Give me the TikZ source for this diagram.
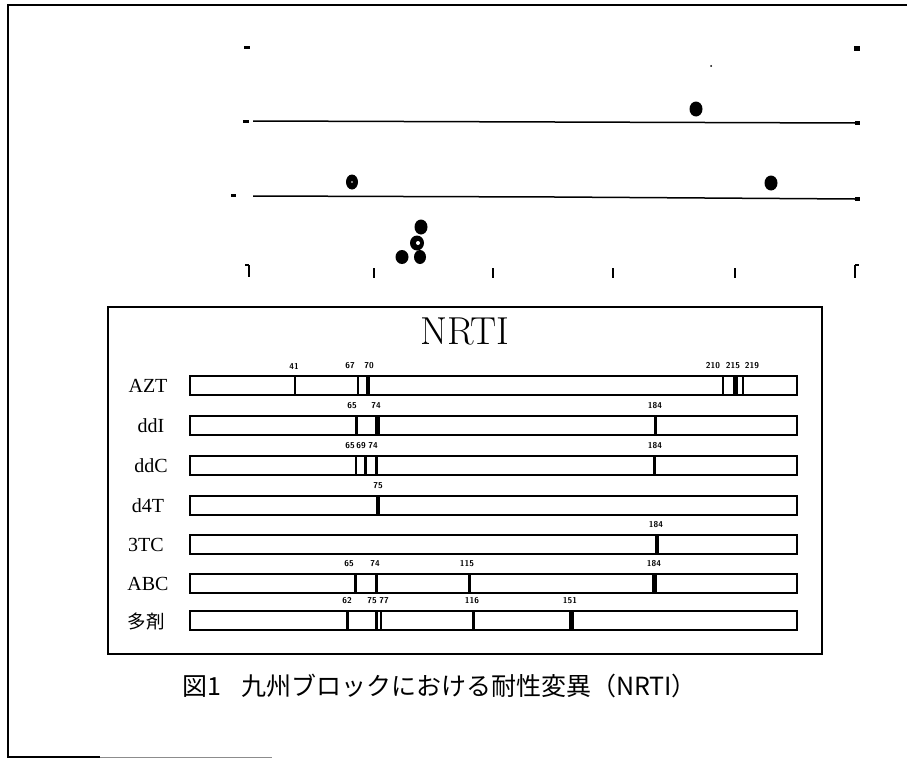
\documentclass[tikz,border=0pt]{standalone}
\usepackage{fontspec}
\newfontfamily\jpfont{Noto Sans CJK JP}
\newfontfamily\serifl{Liberation Serif}
\begin{document}
\begin{tikzpicture}[x=1pt,y=-1pt,
  frameline/.style={line width=2pt},
  plotline/.style={line width=1.5pt},
  barbox/.style={draw,line width=1.4pt},
  num/.style={font=\sffamily\bfseries\fontsize{8.5}{8.5}\selectfont,inner sep=0pt},
  lab/.style={font=\serifl\fontsize{20}{20}\selectfont,inner sep=0pt},
  dotm/.style={fill=black}]
\useasboundingbox (0,0) rectangle (907,760);
\fill[white] (0,0) rectangle (907,760);
% outer frame
\draw[frameline] (907,5) -- (8,5) -- (8,757) -- (100,757);
\draw[line width=1pt,black!45] (100,757) -- (272,757);
% ---------- scatter plot ----------
\fill (244,46) rectangle (250,49);
\fill (854,46) rectangle (860,51);
\fill (711,66) circle (1pt);
\fill (243,120) rectangle (249,123);
\draw[plotline] (253,121) -- (555,122) -- (855,123);
\fill (855,121) rectangle (860,125);
\fill (231,194) rectangle (236,197);
\draw[plotline] (253,196) -- (555,197) -- (855,199);
\fill (855,197) rectangle (860,201);
\fill[dotm] (696,109) ellipse [x radius=6.5pt,y radius=7.5pt];
\fill[dotm] (352,182) ellipse [x radius=6pt,y radius=7.5pt];
\fill[white] (352,182) circle (0.8pt);
\fill[dotm] (771,183) ellipse [x radius=6.5pt,y radius=7.5pt];
\fill[dotm] (421,227) ellipse [x radius=6.5pt,y radius=7.5pt];
\fill[dotm] (417,243) ellipse [x radius=7pt,y radius=7.5pt];
\fill[white] (418,243) circle (2pt);
\fill[dotm] (402,257) ellipse [x radius=6.5pt,y radius=7pt];
\fill[dotm] (420,257) ellipse [x radius=6pt,y radius=7pt];
% bottom ticks
\draw[line width=2pt] (249,265) -- (249,277);
\draw[line width=2pt] (245,265) -- (249,265);
\foreach \tx in {374,493,613,735} \draw[line width=1.5pt] (\tx,268) -- (\tx,278);
\draw[line width=2pt] (855,265) -- (855,278);
\draw[line width=2pt] (855,265) -- (859,265);
% ---------- NRTI box ----------
\draw[frameline] (108,307) rectangle (822,654);
\node[font=\fontsize{39}{39}\selectfont,inner sep=0pt] (title) at (465,331) {NRTI};
% rows
\node[lab] (lAZT) at (148,386) {AZT};
\node[lab] (lddI) at (151,426) {ddI};
\node[lab] (lddC) at (151,466) {ddC};
\node[lab] (ld4T) at (148,506) {d4T};
\node[lab] (l3TC) at (146,545) {3TC};
\node[lab] (lABC) at (148,584) {ABC};
\node[lab,font=\jpfont\fontsize{18.5}{18.5}\selectfont] (lmulti) at (146,621) {多剤};
\foreach \t in {376,416,456,496,535,574,611}
  \draw[barbox] (190,\t) rectangle (797,\t+19);
% AZT
\foreach \mx/\mw in {295/2,358/2,368/4,723/2,735/5,743/2}
  \draw[line width=\mw pt] (\mx,376) -- (\mx,395);
\node[num] (a41) at (294,366) {41};
\node[num] (a67) at (350,366) {67};
\node[num] (a70) at (369,366) {70};
\node[num] (a210) at (713,366) {210};
\node[num] (a215) at (733,366) {215};
\node[num] (a219) at (752,366) {219};
% ddI
\foreach \mx/\mw in {356/3,377/5,655/3}
  \draw[line width=\mw pt] (\mx,416) -- (\mx,435);
\node[num] (b65) at (352,406) {65};
\node[num] (b74) at (376,406) {74};
\node[num] (b184) at (655,406) {184};
% ddC
\foreach \mx/\mw in {356/2,365/3,376/3,654/3}
  \draw[line width=\mw pt] (\mx,456) -- (\mx,475);
\node[num] (c65) at (350,446) {65};
\node[num] (c69) at (361,446) {69};
\node[num] (c74) at (373,446) {74};
\node[num] (c184) at (655,446) {184};
% d4T
\draw[line width=4pt] (378,496) -- (378,515);
\node[num] (d75) at (378,486) {75};
% 3TC
\draw[line width=4pt] (657,535) -- (657,554);
\node[num] (e184) at (656,525) {184};
% ABC
\foreach \mx/\mw in {355/3,376/3,469/3,654/5}
  \draw[line width=\mw pt] (\mx,574) -- (\mx,593);
\node[num] (f65) at (349,564) {65};
\node[num] (f74) at (375,564) {74};
\node[num] (f115) at (467,564) {115};
\node[num] (f184) at (654,564) {184};
% multi
\foreach \mx/\mw in {347/3,376/3,381/2,473/3,571/5}
  \draw[line width=\mw pt] (\mx,611) -- (\mx,630);
\node[num] (g62) at (347,601) {62};
\node[num] (g75) at (372,601) {75};
\node[num] (g77) at (384,601) {77};
\node[num] (g116) at (472,601) {116};
\node[num] (g151) at (570,601) {151};
% caption
\node[font=\jpfont\fontsize{25}{25}\selectfont,inner sep=0pt,anchor=west] (cap) at (182,686) {図1\hspace{20pt}九州ブロックにおける耐性変異（NRTI）};
\end{tikzpicture}
\end{document}
